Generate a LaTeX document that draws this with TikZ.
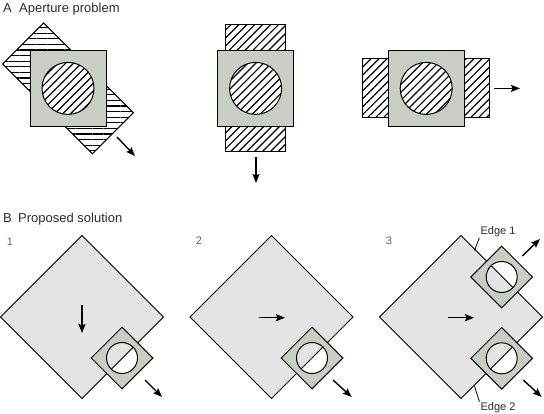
\documentclass[tikz,border=0pt]{standalone}
\usepackage{fontspec}
\setmainfont{Liberation Sans}
\usetikzlibrary{shapes.geometric,arrows.meta,patterns.meta}
\definecolor{apgray}{RGB}{200,206,196}
\definecolor{fieldgray}{RGB}{228,228,228}
\definecolor{inkgray}{RGB}{45,45,45}
\definecolor{numgray}{RGB}{100,100,100}
% window over the moving field: small aperture, circle shows the field edge
\newcommand{\peephole}[3]{%
  \node[aperture] (#1) at (#2) {};
  \fill[white] (#2) circle (15.5);
  \begin{scope}
    \clip (#2) circle (15.5);
    \draw[field edge] (#3.north)--(#3.east)--(#3.south)--(#3.west)--cycle;
  \end{scope}
  \draw[line width=1pt] (#2) circle (15.5);}

\begin{document}
\begin{tikzpicture}[x=1pt,y=-1pt,
  every node/.style={font=\fontsize{13}{15}\selectfont,text=inkgray,inner sep=0pt},
  hatchbox/.style={draw=black,line width=1pt,preaction={fill=white},
    pattern={Lines[angle=#1,distance=5.6pt,line width=1.2pt]}},
  hatchbox/.default=45,
  window/.style={draw=black,fill=apgray,line width=1pt,minimum size=76pt},
  field/.style={diamond,aspect=1,draw=black,fill=fieldgray,line width=1pt,minimum size=163pt,outer sep=0pt},
  field edge/.style={draw=black,fill=fieldgray,line width=1pt},
  aperture/.style={diamond,aspect=1,draw=black,fill=apgray,line width=1pt,minimum size=62pt},
  motion/.style={-{Stealth[length=9pt,width=7pt,inset=1.5pt]},line width=1.4pt},
  num/.style={font=\fontsize{11}{13}\selectfont,text=numgray},
  edgelbl/.style={font=\fontsize{11}{13}\selectfont,inner sep=1pt}]
\useasboundingbox (0,0) rectangle (544,414);

% A: aperture problem
\node[anchor=base west] (la) at (3,12.5) {A};
\node[anchor=base west] (ta) at (19,12.5) {Aperture problem};

\coordinate (a1) at (68,88.4);
\coordinate (a2) at (255.6,88.4);
\coordinate (a3) at (426.2,88.4);

\node[hatchbox=0,minimum width=127pt,minimum height=58pt,rotate=-45] (r1) at (a1) {};
\node[window] (w1) at (a1) {};
\node[hatchbox,circle,minimum size=52pt] (c1) at (a1) {};

\node[hatchbox,minimum width=60pt,minimum height=127pt] (r2) at (a2) {};
\node[window] (w2) at (a2) {};
\node[hatchbox,circle,minimum size=52pt] (c2) at (a2) {};

\node[hatchbox,minimum width=127pt,minimum height=59pt] (r3) at (a3) {};
\node[window] (w3) at (a3) {};
\node[hatchbox,circle,minimum size=52pt] (c3) at (a3) {};

\coordinate (m1s) at (117,137); \coordinate (m1e) at (135,156);
\coordinate (m2s) at (256,157); \coordinate (m2e) at (256,183);
\coordinate (m3s) at (494,88.4); \coordinate (m3e) at (520,88.4);
\draw[motion] (m1s)--(m1e);
\draw[motion] (m2s)--(m2e);
\draw[motion] (m3s)--(m3e);

% B: proposed solution
\node[anchor=base west] (lb) at (3,222.7) {B};
\node[anchor=base west] (tb) at (18,222.7) {Proposed solution};
\node[num] (n1) at (10,242) {1};
\node[num] (n2) at (199,241) {2};
\node[num] (n3) at (389,241) {3};

\node[field] (f1) at (82,317) {};
\node[field] (f2) at (271.5,317) {};
\node[field] (f3) at (461,317) {};

\coordinate (i1s) at (82,305); \coordinate (i1e) at (82,333);
\coordinate (i2s) at (259,317.7); \coordinate (i2e) at (285,317.7);
\coordinate (i3s) at (448,317.7); \coordinate (i3e) at (474,317.7);
\draw[motion] (i1s)--(i1e);
\draw[motion] (i2s)--(i2e);
\draw[motion] (i3s)--(i3e);

\peephole{p1}{122,358}{f1}
\peephole{p2}{312,358}{f2}
\peephole{p3}{501.7,277}{f3}
\peephole{p4}{501.7,358.3}{f3}

\coordinate (o1s) at (145,380); \coordinate (o1e) at (162,397);
\coordinate (o2s) at (333,380); \coordinate (o2e) at (351.7,397);
\coordinate (o3s) at (522.3,256); \coordinate (o3e) at (540,239);
\coordinate (o4s) at (523.3,380); \coordinate (o4e) at (541.7,397);
\draw[motion] (o1s)--(o1e);
\draw[motion] (o2s)--(o2e);
\draw[motion] (o3s)--(o3e);
\draw[motion] (o4s)--(o4e);

\node[edgelbl] (e1) at (498,231.5) {Edge 1};
\node[edgelbl] (e2) at (498,408) {Edge 2};
\coordinate (k1) at (474.5,250.5);
\coordinate (k2) at (474.5,386);
\draw[line width=0.8pt] (e1.south west)--(k1);
\draw[line width=0.8pt] (k2)--(e2.north west);
\end{tikzpicture}
\end{document}
